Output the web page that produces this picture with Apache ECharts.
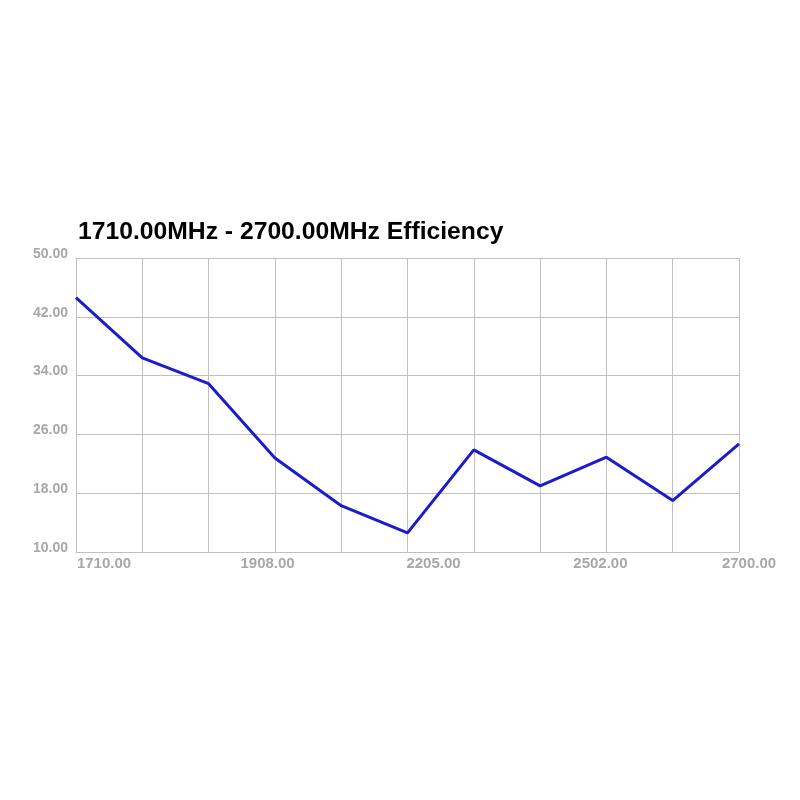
<!DOCTYPE html>
<html>
<head>
<meta charset="utf-8">
<script src="https://cdn.jsdelivr.net/npm/echarts@6/dist/echarts.min.js"></script>
<style>
  html, body { margin: 0; padding: 0; background: #fff; }
  #main { width: 800px; height: 800px; }
</style>
</head>
<body>
<div id="main"></div>
<script>
// 频点 (MHz) 与效率 (%)
var freqs = [1710, 1809, 1908, 2007, 2106, 2205, 2304, 2403, 2502, 2601, 2700];
var efficiency = [44.6, 36.4, 32.9, 22.8, 16.3, 12.6, 23.9, 19.0, 22.9, 17.0, 24.7];

// 坐标轴刻度标签
var xTickLabels = [1710, 1908, 2205, 2502, 2700];
var yTickLabels = [10, 18, 26, 34, 42, 50];

function setLineData() {
    var myChart = echarts.init(document.getElementById('main'));

    var points = [];
    for (var i = 0; i < freqs.length; i++) {
        points.push([freqs[i], efficiency[i]]);
    }

    var option = {
        backgroundColor: '#fff',
        animation: false,
        title: {
            text: '1710.00MHz - 2700.00MHz Efficiency',
            left: 73,
            top: 215,
            textStyle: {
                fontFamily: 'Liberation Sans, Arial, sans-serif',
                fontSize: 24.7,
                fontWeight: 'bold',
                color: '#000'
            }
        },
        grid: {
            left: 76,
            right: 61,
            top: 258,
            bottom: 248,
            containLabel: false
        },
        xAxis: {
            type: 'value',
            min: 1710,
            max: 2700,
            interval: 99,
            axisLine: { show: true, lineStyle: { color: '#c0c0c0', width: 1 } },
            axisTick: { show: false },
            splitLine: { show: true, lineStyle: { color: '#c0c0c0', width: 1 } },
            axisLabel: {
                margin: 4,
                fontFamily: 'Liberation Sans, Arial, sans-serif',
                fontSize: 15,
                fontWeight: 'bold',
                color: '#a8a8a8',
                formatter: function (value) {
                    var v = Math.round(value);
                    var idx = xTickLabels.indexOf(v);
                    if (idx < 0) return '';
                    return '{s' + idx + '|' + v.toFixed(2) + '}';
                },
                // 原图标签并不正对刻度，这里按原图偏移
                rich: {
                    s0: { padding: [0, 0, 0, 56] },
                    s1: { padding: [0, 0, 0, 118] },
                    s2: { padding: [0, 0, 0, 52] },
                    s3: { padding: [0, 12, 0, 0] },
                    s4: { padding: [0, 0, 0, 20] }
                }
            }
        },
        yAxis: {
            type: 'value',
            min: 10,
            max: 50,
            interval: 8,
            axisLine: { show: true, lineStyle: { color: '#c0c0c0', width: 1 } },
            axisTick: { show: false },
            splitLine: { show: true, lineStyle: { color: '#c0c0c0', width: 1 } },
            axisLabel: {
                margin: 8,
                fontFamily: 'Liberation Sans, Arial, sans-serif',
                fontSize: 14,
                fontWeight: 'bold',
                color: '#a8a8a8',
                formatter: function (value) {
                    var v = Math.round(value);
                    return yTickLabels.indexOf(v) < 0 ? '' : '{a|' + v.toFixed(2) + '}';
                },
                rich: {
                    a: { padding: [0, 0, 8, 0] }
                }
            }
        },
        series: [
            {
                name: 'Efficiency',
                type: 'line',
                data: points,
                symbol: 'none',
                lineStyle: { color: '#1c1ccc', width: 3 }
            }
        ]
    };

    // 使用刚指定的配置项和数据显示图表。
    myChart.setOption(option);
}

setLineData();
</script>
</body>
</html>
